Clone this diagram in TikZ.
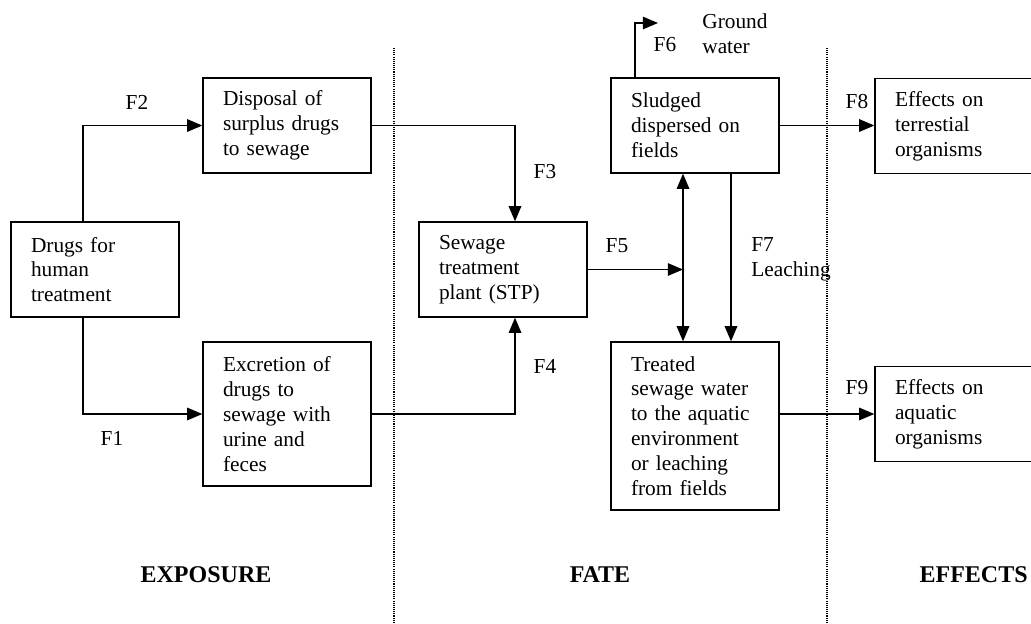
\documentclass[tikz,border=0pt]{standalone}
\usepackage{fontspec}
\setmainfont{Liberation Serif}
\usetikzlibrary{arrows.meta, positioning}

\begin{document}
\begin{tikzpicture}[
    x=0.5625pt, y=-0.5625pt,
    block/.style={draw, line width=0.75pt, minimum width=94.5pt, minimum height=#1,
                  text width=72pt, inner xsep=11.25pt, inner ysep=0pt, align=left,
                  font=\fontsize{12}{14}\selectfont},
    block/.default=53.44pt,
    flow/.style={line width=0.75pt, -{Triangle[length=8.5pt, width=7pt]}},
    flowboth/.style={line width=0.75pt, {Triangle[length=8.5pt, width=7pt]}-{Triangle[length=8.5pt, width=7pt]}},
    flabel/.style={font=\fontsize{12}{14}\selectfont, inner sep=0pt},
    stage/.style={font=\fontsize{13.5}{15}\selectfont\bfseries, inner sep=0pt},
    divider/.style={line width=0.7pt, dash pattern=on 0.6pt off 0.6pt}
]
    \useasboundingbox (0,0) rectangle (1031,623);

    % exposure
    \node[block] (drugs) at (95,269.5) {Drugs for\\human\\treatment};
    \node[block] (disposal) at (287,125.5) {Disposal of\\surplus drugs\\to sewage};
    \node[block=81pt] (excretion) at (287,414) {Excretion of\\drugs to\\sewage with\\urine and\\feces};

    % fate
    \node[block] (stp) at (503,269.5) {Sewage\\treatment\\plant (STP)};
    \node[block] (sludge) at (695,125.5) {Sludged\\dispersed on\\fields};
    \node[block=94.5pt] (treated) at (695,426) {Treated\\sewage water\\to the aquatic\\environment\\or leaching\\from fields};

    % effects
    \node[block] (terr) at (959,126) {Effects on\\terrestial\\organisms};
    \node[block] (aquatic) at (959,414) {Effects on\\aquatic\\organisms};

    \coordinate (mix) at (683,270);
    \coordinate (gw) at (658,23);

    \draw[flow] ([xshift=-6.75pt]drugs.north) |- (disposal.west);
    \draw[flow] ([xshift=-6.75pt]drugs.south) |- (excretion.west);
    \draw[flow] (disposal.east) -| ([xshift=6.75pt]stp.north);
    \draw[flow] (excretion.east) -| ([xshift=6.75pt]stp.south);
    \draw[flow] (stp.east) -- (stp.east -| mix);
    \draw[flowboth] ([xshift=-6.75pt]sludge.south) -- ([xshift=-6.75pt]treated.north);
    \draw[flow] ([xshift=20.25pt]sludge.south) -- ([xshift=20.25pt]treated.north);
    \draw[flow] ([xshift=-33.75pt]sludge.north) |- (gw);
    \draw[flow] (sludge.east) -- (sludge.east -| terr.west);
    \draw[flow] (aquatic.west -| treated.east) -- (aquatic.west);

    \node[flabel] (f1) at (112,438) {F1};
    \node[flabel] (f2) at (137,102) {F2};
    \node[flabel] (f3) at (545,172) {F3};
    \node[flabel] (f4) at (545,366) {F4};
    \node[flabel] (f5) at (617,246) {F5};
    \node[flabel] (f6) at (665,45) {F6};
    \node[flabel, anchor=west, align=left] (ground) at (702,34) {Ground\\water};
    \node[flabel, anchor=west, align=left] (f7) at (751,259) {F7\\Leaching};
    \node[flabel] (f8) at (857,102) {F8};
    \node[flabel] (f9) at (857,388) {F9};

    \draw[divider] (394,48) -- (394,623);
    \draw[divider] (827,48) -- (827,623);

    \node[stage] (exposure) at (206,575) {EXPOSURE};
    \node[stage] (fate) at (600,575) {FATE};
    \node[stage, anchor=east] (effects) at (1028,575) {EFFECTS};
\end{tikzpicture}
\end{document}
